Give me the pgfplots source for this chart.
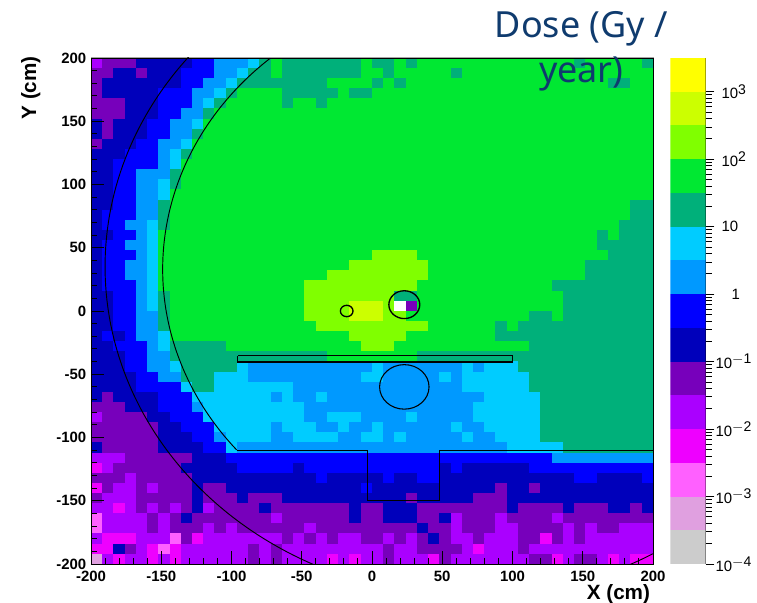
\documentclass[border=0pt]{standalone}
\usepackage{pgfplots}
\usepackage{fontspec}
\setmainfont{Liberation Sans}
\newfontfamily\dosefont{Noto Sans}
\pgfplotsset{compat=1.18}
\definecolor{c0}{RGB}{204,204,204}
\definecolor{c1}{RGB}{224,160,224}
\definecolor{c2}{RGB}{255,96,255}
\definecolor{c3}{RGB}{238,0,255}
\definecolor{c4}{RGB}{170,0,255}
\definecolor{c5}{RGB}{119,0,187}
\definecolor{c6}{RGB}{0,0,187}
\definecolor{c7}{RGB}{0,0,255}
\definecolor{c8}{RGB}{0,153,255}
\definecolor{c9}{RGB}{0,204,255}
\definecolor{c10}{RGB}{0,176,122}
\definecolor{c11}{RGB}{0,232,50}
\definecolor{c12}{RGB}{128,255,0}
\definecolor{c13}{RGB}{204,255,0}
\definecolor{c14}{RGB}{255,255,0}
\definecolor{navy}{RGB}{15,59,110}
\pgfplotsset{colormap={dose}{rgb255=(204,204,204) rgb255=(224,160,224) rgb255=(255,96,255) rgb255=(238,0,255) rgb255=(170,0,255) rgb255=(119,0,187) rgb255=(0,0,187) rgb255=(0,0,255) rgb255=(0,153,255) rgb255=(0,204,255) rgb255=(0,176,122) rgb255=(0,232,50) rgb255=(128,255,0) rgb255=(204,255,0) rgb255=(255,255,0) rgb255=(255,255,255)}}
\pgfdeclareplotmark{cell}{\pgfpathrectangle{\pgfqpoint{-4.215pt}{-3.795pt}}{\pgfqpoint{8.43pt}{7.59pt}}\pgfusepathqfillstroke}
\newcommand{\pw}[1]{10\raisebox{0.6ex}{\fontsize{10.5}{11}\selectfont #1}}
\begin{document}
\begin{tikzpicture}
\useasboundingbox (0,0) rectangle (567.75pt,452.25pt);
\begin{axis}[
  at={(68.25pt,29.25pt)}, anchor=south west, scale only axis,
  width=421.5pt, height=379.5pt,
  xmin=-200, xmax=200, ymin=-200, ymax=200,
  colormap name=dose, point meta min=0, point meta max=15,
  hide axis,
]
\addplot[scatter, only marks, mark=cell, point meta=explicit,
  scatter/use mapped color={draw=mapped color,fill=mapped color,line width=0.25pt}]
 table[header=false, row sep=\\,
  x expr={-196+8*(\coordindex-50*floor((\coordindex+0.5)/50))}, y expr={196-8*floor((\coordindex+0.5)/50)}, meta index=0] {
4\\5\\5\\5\\6\\6\\6\\6\\6\\7\\7\\8\\8\\8\\9\\10\\11\\10\\10\\10\\10\\10\\10\\10\\11\\10\\10\\11\\10\\11\\11\\11\\11\\11\\11\\11\\11\\11\\11\\11\\11\\11\\11\\10\\11\\11\\11\\11\\11\\10\\
5\\5\\6\\6\\5\\6\\6\\6\\7\\7\\7\\8\\8\\9\\10\\10\\11\\10\\10\\10\\10\\10\\10\\10\\11\\11\\10\\11\\11\\11\\11\\11\\10\\11\\11\\11\\11\\11\\11\\11\\11\\11\\11\\11\\11\\11\\11\\11\\11\\11\\
5\\6\\6\\6\\6\\6\\6\\6\\7\\7\\8\\8\\9\\10\\10\\10\\10\\10\\10\\10\\10\\11\\11\\11\\11\\10\\11\\10\\11\\11\\11\\11\\11\\11\\11\\11\\11\\11\\11\\11\\11\\11\\11\\11\\11\\11\\10\\10\\11\\11\\
5\\6\\6\\6\\6\\6\\7\\7\\7\\8\\8\\9\\10\\11\\11\\11\\11\\10\\10\\10\\10\\10\\11\\10\\10\\11\\11\\11\\11\\11\\11\\11\\11\\11\\11\\11\\11\\11\\11\\11\\11\\11\\11\\11\\11\\11\\11\\11\\11\\11\\
5\\5\\5\\6\\6\\6\\7\\7\\7\\8\\9\\10\\11\\11\\11\\11\\11\\10\\11\\11\\10\\11\\11\\11\\11\\11\\11\\11\\11\\11\\11\\11\\11\\11\\11\\11\\11\\11\\11\\11\\11\\11\\11\\11\\11\\11\\11\\11\\11\\11\\
5\\5\\5\\6\\6\\6\\7\\7\\8\\8\\10\\11\\11\\11\\11\\11\\11\\11\\11\\11\\11\\11\\11\\11\\11\\11\\11\\11\\11\\11\\11\\11\\11\\11\\11\\11\\11\\11\\11\\11\\11\\11\\11\\11\\11\\11\\11\\11\\11\\11\\
6\\5\\6\\6\\6\\7\\7\\8\\8\\9\\11\\11\\11\\11\\11\\11\\11\\11\\11\\11\\11\\11\\11\\11\\11\\11\\11\\11\\11\\11\\11\\11\\11\\11\\11\\11\\11\\11\\11\\11\\11\\11\\11\\11\\11\\11\\11\\11\\11\\11\\
6\\5\\6\\6\\6\\7\\7\\8\\8\\10\\11\\11\\11\\11\\11\\11\\11\\11\\11\\11\\11\\11\\11\\11\\11\\11\\11\\11\\11\\11\\11\\11\\11\\11\\11\\11\\11\\11\\11\\11\\11\\11\\11\\11\\11\\11\\11\\11\\11\\11\\
5\\6\\6\\6\\7\\7\\8\\8\\9\\11\\11\\11\\11\\11\\11\\11\\11\\11\\11\\11\\11\\11\\11\\11\\11\\11\\11\\11\\11\\11\\11\\11\\11\\11\\11\\11\\11\\11\\11\\11\\11\\11\\11\\11\\11\\11\\11\\11\\11\\11\\
6\\6\\6\\7\\7\\7\\8\\9\\10\\11\\11\\11\\11\\11\\11\\11\\11\\11\\11\\11\\11\\11\\11\\11\\11\\11\\11\\11\\11\\11\\11\\11\\11\\11\\11\\11\\11\\11\\11\\11\\11\\11\\11\\11\\11\\11\\11\\11\\11\\11\\
6\\6\\7\\7\\7\\7\\8\\9\\11\\11\\11\\11\\11\\11\\11\\11\\11\\11\\11\\11\\11\\11\\11\\11\\11\\11\\11\\11\\11\\11\\11\\11\\11\\11\\11\\11\\11\\11\\11\\11\\11\\11\\11\\11\\11\\11\\11\\11\\11\\11\\
6\\6\\7\\7\\8\\8\\8\\10\\11\\11\\11\\11\\11\\11\\11\\11\\11\\11\\11\\11\\11\\11\\11\\11\\11\\11\\11\\11\\11\\11\\11\\11\\11\\11\\11\\11\\11\\11\\11\\11\\11\\11\\11\\11\\11\\11\\11\\11\\11\\11\\
6\\6\\7\\7\\8\\8\\9\\10\\11\\11\\11\\11\\11\\11\\11\\11\\11\\11\\11\\11\\11\\11\\11\\11\\11\\11\\11\\11\\11\\11\\11\\11\\11\\11\\11\\11\\11\\11\\11\\11\\11\\11\\11\\11\\11\\11\\11\\11\\11\\11\\
6\\6\\7\\7\\8\\8\\9\\11\\11\\11\\11\\11\\11\\11\\11\\11\\11\\11\\11\\11\\11\\11\\11\\11\\11\\11\\11\\11\\11\\11\\11\\11\\11\\11\\11\\11\\11\\11\\11\\11\\11\\11\\11\\11\\11\\11\\11\\11\\11\\11\\
6\\6\\7\\7\\8\\8\\10\\11\\11\\11\\11\\11\\11\\11\\11\\11\\11\\11\\11\\11\\11\\11\\11\\11\\11\\11\\11\\11\\11\\11\\11\\11\\11\\11\\11\\11\\11\\11\\11\\11\\11\\11\\11\\11\\11\\11\\11\\11\\10\\10\\
6\\7\\7\\7\\8\\8\\10\\11\\11\\11\\11\\11\\11\\11\\11\\11\\11\\11\\11\\11\\11\\11\\11\\11\\11\\11\\11\\11\\11\\11\\11\\11\\11\\11\\11\\11\\11\\11\\11\\11\\11\\11\\11\\11\\11\\11\\11\\11\\10\\10\\
6\\7\\7\\8\\8\\9\\10\\11\\11\\11\\11\\11\\11\\11\\11\\11\\11\\11\\11\\11\\11\\11\\11\\11\\11\\11\\11\\11\\11\\11\\11\\11\\11\\11\\11\\11\\11\\11\\11\\11\\11\\11\\11\\11\\11\\11\\11\\10\\10\\10\\
6\\6\\7\\7\\8\\9\\11\\11\\11\\11\\11\\11\\11\\11\\11\\11\\11\\11\\11\\11\\11\\11\\11\\11\\11\\11\\11\\11\\11\\11\\11\\11\\11\\11\\11\\11\\11\\11\\11\\11\\11\\11\\11\\11\\11\\10\\11\\10\\10\\10\\
6\\7\\7\\8\\8\\9\\11\\11\\11\\11\\11\\11\\11\\11\\11\\11\\11\\11\\11\\11\\11\\11\\11\\11\\11\\11\\11\\11\\11\\11\\11\\11\\11\\11\\11\\11\\11\\11\\11\\11\\11\\11\\11\\11\\11\\10\\10\\10\\10\\10\\
6\\7\\7\\7\\8\\9\\11\\11\\11\\11\\11\\11\\11\\11\\11\\11\\11\\11\\11\\11\\11\\11\\11\\11\\11\\12\\12\\12\\12\\11\\11\\11\\11\\11\\11\\11\\11\\11\\11\\11\\11\\11\\11\\11\\11\\11\\10\\10\\10\\10\\
6\\7\\7\\8\\8\\9\\11\\11\\11\\11\\11\\11\\11\\11\\11\\11\\11\\11\\11\\11\\11\\11\\11\\12\\12\\12\\12\\12\\12\\12\\11\\11\\11\\11\\11\\11\\11\\11\\11\\11\\11\\11\\11\\11\\10\\10\\10\\10\\10\\10\\
6\\7\\7\\8\\8\\9\\11\\11\\11\\11\\11\\11\\11\\11\\11\\11\\11\\11\\11\\11\\11\\12\\12\\12\\12\\12\\12\\12\\12\\12\\11\\11\\11\\11\\11\\11\\11\\11\\11\\11\\11\\11\\11\\11\\10\\10\\10\\10\\10\\10\\
6\\7\\7\\7\\8\\9\\11\\11\\11\\11\\11\\11\\11\\11\\11\\11\\11\\11\\11\\12\\12\\12\\12\\12\\12\\12\\12\\12\\12\\11\\11\\11\\11\\11\\11\\11\\11\\11\\11\\11\\11\\10\\10\\10\\10\\10\\10\\10\\10\\10\\
6\\6\\7\\7\\8\\9\\10\\11\\11\\11\\11\\11\\11\\11\\11\\11\\11\\11\\11\\12\\12\\12\\12\\12\\12\\12\\12\\10\\10\\11\\11\\11\\11\\11\\11\\11\\11\\11\\11\\11\\11\\11\\10\\10\\10\\10\\10\\10\\10\\10\\
6\\6\\7\\7\\8\\9\\10\\11\\11\\11\\11\\11\\11\\11\\11\\11\\11\\11\\11\\12\\12\\12\\12\\13\\13\\13\\12\\15\\5\\11\\11\\11\\11\\11\\11\\11\\11\\11\\11\\11\\11\\11\\10\\10\\10\\10\\10\\10\\10\\10\\
6\\6\\7\\7\\8\\8\\10\\11\\11\\11\\11\\11\\11\\11\\11\\11\\11\\11\\11\\12\\12\\12\\12\\13\\13\\13\\12\\12\\11\\11\\11\\11\\11\\11\\11\\11\\11\\11\\11\\10\\10\\11\\10\\10\\10\\10\\10\\10\\10\\10\\
6\\6\\7\\7\\8\\8\\10\\11\\11\\11\\11\\11\\11\\11\\11\\11\\11\\11\\11\\11\\12\\12\\12\\12\\12\\12\\12\\12\\12\\12\\11\\11\\11\\11\\11\\11\\10\\11\\10\\10\\10\\10\\10\\10\\10\\10\\10\\10\\10\\10\\
6\\7\\6\\7\\8\\8\\9\\11\\11\\11\\11\\11\\11\\11\\11\\11\\11\\11\\11\\11\\11\\11\\11\\12\\12\\12\\12\\12\\11\\11\\11\\11\\11\\11\\11\\11\\10\\10\\10\\10\\10\\10\\10\\10\\10\\10\\10\\10\\10\\10\\
6\\6\\7\\7\\7\\8\\9\\10\\10\\10\\10\\10\\11\\11\\11\\11\\11\\11\\11\\11\\11\\11\\11\\11\\12\\12\\12\\11\\11\\11\\11\\11\\11\\11\\11\\11\\11\\11\\11\\10\\10\\10\\10\\10\\10\\10\\10\\10\\10\\10\\
6\\6\\6\\7\\7\\8\\8\\10\\10\\10\\10\\10\\10\\10\\10\\10\\10\\10\\10\\10\\10\\11\\11\\11\\11\\11\\11\\11\\11\\10\\10\\10\\10\\10\\10\\10\\10\\10\\10\\10\\10\\10\\10\\10\\10\\10\\10\\10\\10\\10\\
6\\6\\6\\7\\7\\8\\8\\9\\10\\10\\10\\10\\10\\9\\8\\8\\8\\8\\8\\8\\8\\8\\8\\8\\8\\9\\8\\8\\8\\8\\8\\8\\8\\9\\8\\9\\9\\9\\10\\10\\10\\10\\10\\10\\10\\10\\10\\10\\10\\10\\
6\\6\\6\\6\\7\\7\\8\\8\\10\\10\\10\\9\\9\\9\\8\\8\\8\\8\\8\\8\\8\\8\\8\\8\\9\\9\\8\\8\\8\\8\\8\\9\\8\\9\\9\\9\\9\\9\\9\\10\\10\\10\\10\\10\\10\\10\\10\\10\\10\\10\\
6\\6\\6\\6\\7\\7\\7\\7\\9\\10\\10\\9\\9\\9\\9\\9\\9\\9\\8\\8\\8\\8\\8\\8\\8\\8\\8\\8\\8\\8\\8\\8\\8\\9\\9\\9\\9\\9\\9\\10\\10\\10\\10\\10\\10\\10\\10\\10\\10\\10\\
6\\5\\6\\6\\6\\6\\7\\7\\7\\9\\9\\9\\9\\9\\9\\9\\8\\9\\8\\8\\9\\8\\8\\8\\8\\8\\8\\8\\8\\8\\8\\8\\8\\8\\8\\9\\9\\9\\9\\9\\10\\10\\10\\10\\10\\10\\10\\10\\10\\10\\
5\\5\\5\\6\\6\\6\\7\\7\\7\\8\\9\\9\\9\\9\\9\\9\\9\\9\\9\\8\\8\\8\\8\\8\\8\\8\\8\\8\\8\\8\\8\\8\\8\\8\\9\\9\\9\\9\\9\\9\\10\\10\\10\\10\\10\\10\\10\\10\\10\\10\\
4\\5\\5\\5\\5\\6\\6\\7\\7\\7\\9\\9\\9\\9\\9\\9\\9\\9\\9\\8\\8\\9\\9\\9\\8\\8\\8\\8\\9\\8\\8\\8\\8\\8\\9\\9\\9\\9\\9\\9\\10\\10\\10\\10\\10\\10\\10\\10\\10\\10\\
5\\5\\5\\5\\5\\5\\6\\6\\7\\7\\7\\9\\9\\9\\9\\9\\8\\9\\9\\9\\8\\8\\9\\8\\8\\9\\8\\8\\8\\8\\8\\8\\9\\8\\8\\9\\9\\9\\9\\9\\10\\10\\10\\10\\10\\10\\10\\10\\10\\10\\
5\\5\\5\\5\\5\\5\\6\\6\\6\\7\\7\\8\\9\\9\\9\\9\\8\\8\\9\\9\\9\\9\\8\\8\\9\\9\\8\\9\\8\\8\\8\\8\\8\\9\\8\\8\\9\\9\\9\\9\\10\\10\\10\\10\\10\\10\\10\\10\\10\\10\\
6\\5\\5\\5\\5\\5\\6\\6\\6\\6\\7\\7\\9\\8\\8\\8\\8\\8\\8\\8\\8\\8\\8\\8\\8\\8\\8\\8\\8\\8\\8\\8\\8\\8\\8\\8\\8\\9\\9\\9\\9\\9\\10\\10\\10\\10\\10\\10\\10\\10\\
4\\4\\4\\5\\5\\5\\5\\5\\5\\6\\6\\6\\7\\7\\7\\7\\7\\7\\7\\7\\7\\7\\7\\7\\7\\7\\7\\7\\7\\7\\7\\7\\7\\7\\7\\7\\7\\7\\7\\7\\7\\8\\8\\8\\8\\8\\8\\8\\8\\8\\
3\\4\\5\\5\\5\\5\\5\\5\\6\\6\\6\\6\\6\\7\\7\\7\\7\\7\\6\\7\\7\\7\\7\\7\\7\\7\\7\\7\\7\\7\\7\\6\\7\\6\\6\\6\\6\\6\\6\\7\\7\\7\\7\\7\\7\\7\\7\\7\\7\\7\\
5\\5\\5\\4\\5\\5\\5\\5\\5\\6\\6\\6\\6\\6\\6\\6\\6\\6\\6\\6\\7\\6\\6\\6\\6\\6\\7\\6\\6\\7\\7\\6\\6\\6\\6\\6\\6\\6\\6\\6\\6\\6\\6\\7\\7\\6\\6\\6\\6\\7\\
3\\5\\4\\4\\5\\4\\5\\5\\5\\6\\5\\5\\6\\6\\6\\6\\6\\6\\6\\6\\6\\6\\6\\6\\7\\6\\6\\6\\6\\6\\6\\6\\6\\6\\6\\6\\5\\6\\6\\5\\6\\6\\6\\6\\6\\6\\6\\6\\6\\6\\
5\\4\\4\\4\\5\\5\\5\\5\\5\\6\\5\\5\\5\\6\\5\\5\\5\\6\\6\\6\\6\\6\\6\\6\\6\\6\\6\\6\\5\\6\\6\\6\\6\\6\\5\\5\\5\\6\\6\\6\\6\\6\\6\\6\\6\\6\\6\\6\\6\\6\\
4\\4\\3\\4\\5\\4\\5\\4\\5\\6\\4\\5\\5\\5\\5\\6\\5\\5\\5\\5\\5\\5\\5\\6\\5\\5\\6\\6\\6\\5\\5\\5\\5\\5\\5\\5\\5\\6\\5\\5\\5\\5\\6\\5\\5\\5\\6\\6\\5\\6\\
2\\4\\4\\4\\4\\5\\4\\5\\6\\5\\5\\5\\5\\5\\5\\5\\4\\5\\5\\5\\5\\5\\5\\6\\5\\5\\6\\6\\6\\5\\5\\6\\4\\5\\5\\5\\4\\5\\5\\5\\5\\4\\5\\5\\5\\5\\5\\5\\5\\5\\
2\\4\\4\\4\\4\\5\\4\\5\\5\\5\\4\\5\\4\\5\\5\\5\\5\\5\\5\\4\\5\\5\\5\\5\\5\\5\\5\\5\\5\\6\\5\\5\\4\\5\\5\\5\\4\\4\\5\\5\\5\\5\\4\\5\\4\\5\\5\\4\\4\\4\\
4\\3\\3\\3\\4\\4\\4\\2\\5\\3\\4\\4\\4\\4\\4\\4\\4\\5\\4\\5\\4\\5\\4\\4\\5\\5\\4\\5\\4\\5\\6\\5\\4\\4\\5\\4\\4\\4\\5\\5\\3\\5\\4\\5\\4\\4\\4\\4\\4\\4\\
3\\3\\6\\5\\4\\3\\2\\3\\4\\4\\4\\4\\4\\4\\5\\4\\5\\4\\4\\4\\4\\4\\4\\4\\4\\4\\5\\4\\4\\5\\5\\5\\5\\4\\3\\4\\4\\4\\5\\4\\4\\4\\4\\4\\4\\4\\4\\4\\4\\4\\
1\\4\\3\\4\\4\\3\\4\\3\\4\\4\\4\\4\\4\\4\\5\\4\\5\\4\\4\\4\\4\\3\\4\\3\\4\\4\\5\\4\\4\\4\\3\\5\\4\\4\\4\\4\\4\\4\\4\\5\\5\\3\\4\\5\\5\\4\\3\\4\\3\\3\\
};
\end{axis}
\draw[black!35,line width=0.75pt] (68.25pt,409.4pt) -- (490.4pt,409.4pt) -- (490.4pt,29.25pt);
\begin{axis}[
  at={(68.25pt,29.25pt)}, anchor=south west, scale only axis,
  width=421.5pt, height=379.5pt,
  xmin=-200, xmax=200, ymin=-200, ymax=200,
  tick align=inside, xtick pos=bottom, ytick pos=left,
  xtick={-200,-150,-100,-50,0,50,100,150,200},
  xticklabels={-200,-150,-100,-50,0,50,100,150,200},
  ytick={-200,-150,-100,-50,0,50,100,150,200},
  yticklabels={-200,-150,-100,-50,0,50,100,150,200},
  minor tick num=4,
  major tick length=9.5pt, minor tick length=4.5pt,
  tick style={black,line width=0.7pt},
  axis line style={black,line width=0.6pt},
  ticklabel style={font=\fontsize{11.2}{13}\selectfont\bfseries},
  xticklabel style={yshift=-2pt},
  xlabel={X (cm)}, ylabel={Y (cm)},
  xlabel style={at={(axis description cs:0.9385,-0.0595)},anchor=center,font=\fontsize{15.5}{18}\selectfont\bfseries},
  ylabel style={at={(axis description cs:-0.107,0.941)},anchor=center,font=\fontsize{15.5}{18}\selectfont\bfseries},
]
% detector outlines
\draw[black,line width=0.7pt] plot[smooth,domain=140.5:299.6,samples=120,variable=\t] ({71+261*cos(\t)},{35+261*sin(\t)});
\draw[black,line width=0.7pt] plot[smooth,domain=130.7:220.5,samples=70,variable=\t] ({71+220*cos(\t)},{33+220*sin(\t)});
\addplot[black,line width=0.7pt] coordinates {(-96,-110)(-3,-110)(-3,-150)(48,-150)(48,-110)(200,-110)};
\addplot[black,line width=0.9pt] coordinates {(-95.5,-35.3)(100,-35.3)(100,-40.3)(-95.5,-40.3)(-95.5,-35.3)};
\draw[black,line width=0.8pt] (axis cs:23,-60) ellipse [x radius=17.6, y radius=17.6];
\draw[black,line width=1pt] (axis cs:23,5) ellipse [x radius=11, y radius=11];
\draw[black,line width=1pt] (axis cs:-18,0) ellipse [x radius=4.5, y radius=4.5];
\end{axis}
\begin{axis}[
  at={(502.7pt,29.25pt)}, anchor=south west, scale only axis,
  width=26.5pt, height=379.5pt,
  xmin=0, xmax=1, ymode=log, ymin=1e-4, ymax=3162.28,
  axis x line=none, axis y line=right,
  axis line style={-,black,line width=0.6pt},
  tick align=outside, xtick=\empty,
  ytick={1e-4,1e-3,1e-2,1e-1,1,10,100,1000},
  yticklabels={\pw{$-$4},\pw{$-$3},\pw{$-$2},\pw{$-$1},\hspace*{12pt}1,\hspace*{4.5pt}10,\hspace*{4.5pt}\pw{2},\hspace*{4.5pt}\pw{3}},
  major tick length=6.5pt, minor tick length=4.5pt,
  tick style={black,line width=0.6pt},
  ticklabel style={font=\fontsize{11.2}{13}\selectfont},
  yticklabel style={anchor=west,inner sep=0pt,xshift=0.75pt},
]
\addplot[fill=c0,draw=none] coordinates {(0,1e-4)(1,1e-4)(1,3.162e-4)(0,3.162e-4)} --cycle;
\addplot[fill=c1,draw=none] coordinates {(0,3.162e-4)(1,3.162e-4)(1,1e-3)(0,1e-3)} --cycle;
\addplot[fill=c2,draw=none] coordinates {(0,1e-3)(1,1e-3)(1,3.162e-3)(0,3.162e-3)} --cycle;
\addplot[fill=c3,draw=none] coordinates {(0,3.162e-3)(1,3.162e-3)(1,1e-2)(0,1e-2)} --cycle;
\addplot[fill=c4,draw=none] coordinates {(0,1e-2)(1,1e-2)(1,3.162e-2)(0,3.162e-2)} --cycle;
\addplot[fill=c5,draw=none] coordinates {(0,3.162e-2)(1,3.162e-2)(1,1e-1)(0,1e-1)} --cycle;
\addplot[fill=c6,draw=none] coordinates {(0,1e-1)(1,1e-1)(1,0.3162)(0,0.3162)} --cycle;
\addplot[fill=c7,draw=none] coordinates {(0,0.3162)(1,0.3162)(1,1)(0,1)} --cycle;
\addplot[fill=c8,draw=none] coordinates {(0,1)(1,1)(1,3.162)(0,3.162)} --cycle;
\addplot[fill=c9,draw=none] coordinates {(0,3.162)(1,3.162)(1,10)(0,10)} --cycle;
\addplot[fill=c10,draw=none] coordinates {(0,10)(1,10)(1,31.62)(0,31.62)} --cycle;
\addplot[fill=c11,draw=none] coordinates {(0,31.62)(1,31.62)(1,100)(0,100)} --cycle;
\addplot[fill=c12,draw=none] coordinates {(0,100)(1,100)(1,316.2)(0,316.2)} --cycle;
\addplot[fill=c13,draw=none] coordinates {(0,316.2)(1,316.2)(1,1000)(0,1000)} --cycle;
\addplot[fill=c14,draw=none] coordinates {(0,1000)(1,1000)(1,3162.28)(0,3162.28)} --cycle;
\end{axis}
\node[anchor=base,text=navy,font=\dosefont\fontsize{27}{31}\selectfont] at (436pt,423.75pt) {Dose (Gy /};
\node[anchor=base,text=navy,font=\dosefont\fontsize{27}{31}\selectfont] at (436pt,390pt) {year)};
\end{tikzpicture}
\end{document}
